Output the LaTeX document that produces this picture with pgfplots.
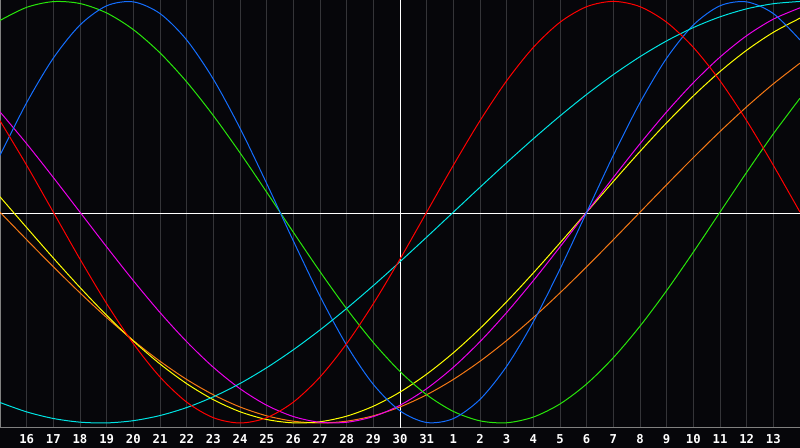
\documentclass[border=0pt]{standalone}
\usepackage{pgfplots}
\pgfplotsset{compat=1.18}
\usepackage{pgfplotstable}
\usepackage{fontspec}
\setmainfont{DejaVu Sans Mono}
\definecolor{bgc}{RGB}{6,6,10}
\definecolor{gridc}{RGB}{52,52,56}
\definecolor{framec}{RGB}{128,128,128}
\definecolor{cred}{RGB}{255,0,0}
\definecolor{cblue}{RGB}{20,110,255}
\definecolor{cgreen}{RGB}{40,230,10}
\definecolor{ccyan}{RGB}{0,228,228}
\definecolor{cmag}{RGB}{235,0,235}
\definecolor{cyel}{RGB}{255,255,0}
\definecolor{cora}{RGB}{245,120,20}

\pgfplotstableread{
t r b g c m y o
0 0.4339 0.2698 0.9096 -0.9028 0.4759 0.0730 0
1 0.2225 0.5196 0.9718 -0.9473 0.3247 -0.0730 -0.1305
2 0 0.7308 0.9989 -0.9786 0.1646 -0.2174 -0.2588
3 -0.2225 0.8879 0.9898 -0.9960 0 -0.3572 -0.3827
4 -0.4339 0.9791 0.9450 -0.9996 -0.1646 -0.4894 -0.5
5 -0.6235 0.9977 0.8660 -0.9890 -0.3247 -0.6111 -0.6088
6 -0.7818 0.9423 0.7557 -0.9646 -0.4759 -0.7199 -0.7071
7 -0.9010 0.8170 0.6182 -0.9267 -0.6142 -0.8133 -0.7934
8 -0.9749 0.6311 0.4582 -0.8758 -0.7357 -0.8894 -0.8660
9 -1 0.3984 0.2817 -0.8126 -0.8372 -0.9465 -0.9239
10 -0.9749 0.1362 0.0951 -0.7378 -0.9158 -0.9834 -0.9659
11 -0.9010 -0.1362 -0.0951 -0.6527 -0.9694 -0.9993 -0.9914
12 -0.7818 -0.3984 -0.2817 -0.5586 -0.9966 -0.9940 -1
13 -0.6235 -0.6311 -0.4582 -0.4566 -0.9966 -0.9675 -0.9914
14 -0.4339 -0.8170 -0.6182 -0.3482 -0.9694 -0.9204 -0.9659
15 -0.2225 -0.9423 -0.7557 -0.2349 -0.9158 -0.8533 -0.9239
16 0 -0.9977 -0.8660 -0.1183 -0.8372 -0.7683 -0.8660
17 0.2225 -0.9791 -0.9450 0 -0.7357 -0.6671 -0.7934
18 0.4339 -0.8879 -0.9898 0.1183 -0.6142 -0.5517 -0.7071
19 0.6235 -0.7308 -0.9989 0.2349 -0.4759 -0.4244 -0.6088
20 0.7818 -0.5196 -0.9718 0.3482 -0.3247 -0.2881 -0.5
21 0.9010 -0.2698 -0.9096 0.4566 -0.1646 -0.1456 -0.3827
22 0.9749 0 -0.8146 0.5586 0 0 -0.2588
23 1 0.2698 -0.6901 0.6527 0.1646 0.1456 -0.1305
24 0.9749 0.5196 -0.5406 0.7378 0.3247 0.2881 0
25 0.9010 0.7308 -0.3717 0.8126 0.4759 0.4244 0.1305
26 0.7818 0.8879 -0.1893 0.8758 0.6142 0.5517 0.2588
27 0.6235 0.9791 0 0.9267 0.7357 0.6671 0.3827
28 0.4339 0.9977 0.1893 0.9646 0.8372 0.7683 0.5
29 0.2225 0.9423 0.3717 0.9890 0.9158 0.8533 0.6088
30 0 0.8170 0.5406 0.9996 0.9694 0.9204 0.7071
}\bio

\begin{document}
\begin{tikzpicture}
\fill[bgc] (0,-15pt) rectangle (600pt,321pt);
\begin{axis}[
  scale only axis,
  width=600pt, height=321pt,
  xmin=0, xmax=30,
  ymin=-1.0237, ymax=1.0066,
  clip=false,
  axis line style={draw=none},
  xtick={1,...,29},
  xticklabels={16,17,18,19,20,21,22,23,24,25,26,27,28,29,30,31,1,2,3,4,5,6,7,8,9,10,11,12,13},
  ytick=\empty,
  major tick length=0pt,
  xmajorgrids,
  grid style={gridc, line width=0.75pt},
  xticklabel style={anchor=center, yshift=-8.25pt, text=white,
    font=\fontsize{9.2}{10}\selectfont\bfseries},
  every axis plot/.append style={line width=0.75pt, smooth},
]
\addplot[framec, no marks, sharp plot] coordinates {(0,-1.0237) (30,-1.0237)};
\addplot[framec, no marks, sharp plot] coordinates {(0,-1.0237) (0,1.0066) (30,1.0066)};
\addplot[white, no marks, sharp plot] coordinates {(0,-0.005) (30,-0.005)};
\addplot[white, no marks, sharp plot] coordinates {(15,-1.0237) (15,1.0066)};
\addplot[cora, no marks] table[x=t, y=o] {\bio};
\addplot[cyel, no marks] table[x=t, y=y] {\bio};
\addplot[cmag, no marks] table[x=t, y=m] {\bio};
\addplot[cgreen, no marks] table[x=t, y=g] {\bio};
\addplot[cblue, no marks] table[x=t, y=b] {\bio};
\addplot[ccyan, no marks] table[x=t, y=c] {\bio};
\addplot[cred, no marks] table[x=t, y=r] {\bio};
\end{axis}
\pgfresetboundingbox
\path (0,-15pt) rectangle (600pt,321pt);
\end{tikzpicture}
\end{document}
